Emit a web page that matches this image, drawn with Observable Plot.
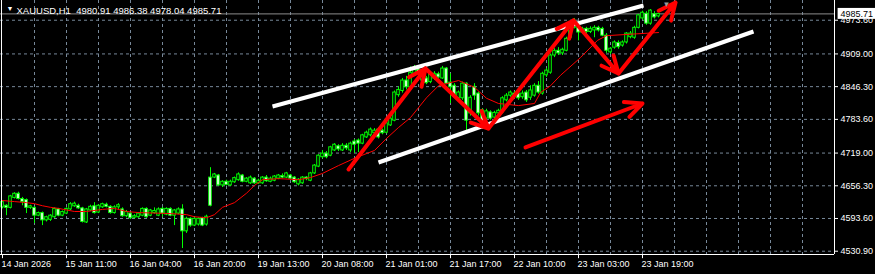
<!DOCTYPE html>
<html><head><meta charset="utf-8">
<script src="https://cdn.jsdelivr.net/npm/d3@7"></script>
<script src="https://cdn.jsdelivr.net/npm/@observablehq/plot@0.6"></script>
<style>html,body{margin:0;padding:0;background:#000;overflow:hidden}</style>
</head><body><div id="chart"></div>
<script>
const header = "XAUUSD,H1  4980.91 4986.38 4978.04 4985.71";
const open = [
4615,4618,4614,4633,4641,4631,4629,4614,4614,4599,
4604,4590,4591,4596,4611,4599,4603,4611,4617,4618,
4613,4586,4609,4617,4605,4615,4620,4616,4604,4615,
4611,4598,4603,4595,4596,4599,4612,4599,4604,4599,
4612,4601,4612,4599,4603,4611,4569,4593,4580,4582,
4594,4582,4672,4672,4676,4657,4664,4657,4663,4667,
4676,4664,4661,4670,4661,4661,4672,4664,4666,4670,
4675,4672,4676,4672,4659,4661,4672,4666,4680,4693,
4711,4718,4714,4724,4732,4724,4733,4724,4741,4743,
4737,4749,4753,4757,4764,4762,4758,4772,4781,4830,
4838,4858,4845,4871,4879,4858,4862,4855,4862,4870,
4862,4881,4854,4848,4824,4824,4852,4795,4846,4833,
4801,4785,4797,4787,4795,4797,4820,4829,4833,4833,
4826,4835,4825,4829,4848,4833,4868,4873,4906,4915,
4910,4915,4940,4959,4959,4950,4957,4951,4954,4959,
4957,4944,4912,4921,4930,4925,4931,4941,4940,4959,
4977,4986,4967,4985,4980.91];
const high = [
4628,4620,4638,4643,4644,4634,4631,4619,4616,4606,
4606,4598,4601,4614,4613,4608,4614,4624,4625,4621,
4615,4613,4619,4624,4620,4623,4623,4618,4618,4622,
4614,4609,4605,4601,4605,4614,4614,4611,4614,4614,
4615,4614,4614,4611,4614,4620,4596,4595,4596,4595,
4596,4600,4691,4680,4678,4666,4667,4667,4673,4681,
4678,4672,4675,4672,4669,4674,4676,4673,4676,4678,
4679,4682,4678,4674,4670,4674,4674,4682,4697,4716,
4724,4722,4732,4737,4735,4737,4737,4740,4745,4746,
4755,4761,4767,4766,4767,4765,4778,4788,4838,4846,
4862,4866,4884,4887,4886,4876,4866,4874,4875,4874,
4885,4883,4871,4852,4838,4855,4854,4829,4852,4836,
4804,4803,4800,4799,4803,4827,4833,4838,4837,4836,
4838,4839,4848,4852,4856,4874,4881,4909,4919,4921,
4920,4941,4960,4977,4967,4960,4960,4961,4963,4962,
4960,4948,4921,4934,4934,4934,4950,4952,4962,4985,
4991,4990,4994,4990,4986.38];
const low = [
4612,4599,4612,4631,4629,4618,4603,4611,4584,4597,
4580,4587,4588,4594,4597,4597,4601,4609,4615,4611,
4585,4584,4607,4602,4603,4613,4614,4602,4602,4611,
4596,4595,4592,4593,4594,4597,4594,4597,4602,4597,
4596,4599,4597,4580,4601,4536,4565,4577,4578,4579,
4578,4579,4616,4670,4655,4653,4656,4655,4661,4665,
4662,4662,4659,4659,4659,4659,4663,4662,4664,4668,
4670,4670,4668,4661,4656,4659,4666,4664,4678,4691,
4708,4708,4712,4722,4722,4722,4724,4720,4718,4720,
4735,4747,4750,4754,4746,4754,4756,4770,4779,4826,
4834,4840,4842,4866,4865,4855,4850,4852,4858,4861,
4860,4850,4814,4825,4820,4820,4762,4790,4820,4790,
4775,4782,4782,4784,4792,4794,4817,4826,4827,4820,
4822,4816,4820,4826,4832,4830,4864,4870,4902,4906,
4906,4913,4937,4957,4934,4947,4947,4948,4940,4951,
4942,4910,4908,4918,4918,4922,4928,4938,4937,4957,
4974,4964,4964,4976,4978.04];
const close = [
4625,4614,4636,4641,4631,4625,4614,4617,4599,4604,
4590,4596,4599,4612,4599,4606,4612,4621,4622,4613,
4587,4611,4616,4604,4618,4621,4616,4604,4615,4619,
4598,4606,4594,4598,4603,4612,4596,4609,4608,4611,
4603,4612,4599,4609,4611,4569,4593,4580,4593,4593,
4580,4597,4618,4678,4657,4664,4658,4664,4671,4678,
4664,4670,4672,4661,4666,4672,4665,4670,4674,4676,
4672,4680,4670,4663,4668,4672,4669,4680,4695,4714,
4718,4711,4730,4735,4726,4733,4728,4737,4735,4737,
4753,4758,4764,4762,4749,4757,4776,4785,4835,4840,
4858,4845,4873,4880,4874,4871,4853,4871,4871,4864,
4881,4852,4845,4829,4835,4852,4781,4825,4829,4795,
4778,4799,4785,4796,4800,4824,4829,4835,4830,4824,
4833,4820,4839,4848,4835,4871,4877,4906,4915,4910,
4917,4938,4957,4973,4950,4957,4951,4957,4959,4954,
4944,4915,4919,4931,4922,4931,4948,4948,4959,4983,
4988,4967,4992,4979,4985.71];

// moving average
const maBar   = [0,3,6,8,10,12,14,18,21,25,28,31,34,42,46,48,51,53,55,58,61,63,65,69,74,77,80,84,88,93,96,99,102,106,109,114,118,121,124,129,133,134.5,137,139.5,144.5,148.75,151,164];
const maValue = [4628,4626,4624,4622,4618,4615,4613,4607,4607,4611,4613,4607,4605,4603,4601,4597,4595,4601,4615,4624,4642,4657,4668,4670,4668,4672,4680,4695,4709,4724,4747,4768,4787,4825,4848,4858,4845,4824,4814,4810,4814,4835,4848,4868,4902,4935,4944,4950];

// drawn objects
const zigBar   = [86.5, 105.75, 121.5, 142.75, 154, 168.25];
const zigPrice = [4687.5, 4881.1, 4766.1, 4973.1, 4871.5, 5007.6];
const arrowBar   = [130.75, 160];
const arrowPrice = [4729.7, 4814.0];
const chanBar1   = [67.5, 94];
const chanPrice1 = [4808.3, 4700.9];
const chanBar2   = [160.25, 187.75];
const chanPrice2 = [5001.8, 4952.0];

const yTicks = [4530.90, 4593.60, 4656.30, 4719.00, 4783.60, 4846.30, 4909.00, 4973.60];
const xLabelBars = [0,16,32,48,64,80,96,112,128,144,160];
const xLabels = ["14 Jan 2026","15 Jan 11:00","16 Jan 04:00","16 Jan 20:00","19 Jan 13:00","20 Jan 08:00","21 Jan 01:00","21 Jan 17:00","22 Jan 10:00","23 Jan 03:00","23 Jan 19:00"];
const shiftBar = 166;

const xDomain = [-0.5, 208];
const yDomain = [4524.6, 5011.4];
const lastClose = close[close.length - 1];

const bars = open.map((o, i) => ({i, o, h: high[i], l: low[i], c: close[i]}));
const ma = maBar.map((b, k) => ({b, v: maValue[k]}));
const zz = zigBar.slice(1).map((b, k) => ({x1: zigBar[k], y1: zigPrice[k], x2: b, y2: zigPrice[k + 1]}));
const arr = [{x1: arrowBar[0], y1: arrowPrice[0], x2: arrowBar[1], y2: arrowPrice[1]}];
const chans = chanBar1.map((b, k) => ({x1: b, y1: chanPrice1[k], x2: chanBar2[k], y2: chanPrice2[k]}));

const grid = "#778899";
const green = "#00ff00";

const plot = Plot.plot({
  width: 875, height: 274,
  marginLeft: 0, marginRight: 41, marginTop: 0, marginBottom: 20,
  style: {background: "#000", color: "#fff", fontFamily: "'Liberation Sans', Arial, sans-serif", fontSize: "9px", overflow: "visible"},
  x: {domain: xDomain, axis: null},
  y: {domain: yDomain, axis: null},
  marks: [
    Plot.ruleY(yTicks, {stroke: grid, strokeDasharray: "3,3"}),
    Plot.ruleX(d3.range(8, 208, 8), {stroke: grid, strokeDasharray: "3,3"}),
    Plot.ruleY([lastClose], {stroke: "#8c8c8c"}),
    Plot.ruleX(bars, {x: "i", y1: "l", y2: "h", stroke: green}),
    Plot.rect(bars, {x1: d => d.i - 0.32, x2: d => d.i + 0.32, y1: "o", y2: "c",
      fill: d => d.c >= d.o ? "#000000" : "#ffffff", stroke: green}),
    Plot.line(ma, {x: "b", y: "v", stroke: "#ff0000", strokeWidth: 1}),
    Plot.link(chans, {x1: "x1", y1: "y1", x2: "x2", y2: "y2", stroke: "#ffffff", strokeWidth: 4}),
    Plot.arrow(zz, {x1: "x1", y1: "y1", x2: "x2", y2: "y2", stroke: "#ff0000", strokeWidth: 4, headLength: 7, headAngle: 50}),
    Plot.arrow(arr, {x1: "x1", y1: "y1", x2: "x2", y2: "y2", stroke: "#ff0000", strokeWidth: 4, headLength: 7, headAngle: 50}),
    // frame
    Plot.ruleX([xDomain[1]], {stroke: "#fff"}),
    Plot.ruleX([xDomain[0] + 0.25], {stroke: "#fff"}),
    Plot.ruleY([yDomain[0]], {stroke: "#fff", x1: xDomain[0], x2: xDomain[1]}),
    // y axis
    Plot.ruleY(yTicks, {x1: xDomain[1], x2: xDomain[1] + 1, stroke: "#fff"}),
    Plot.text(yTicks, {x: xDomain[1], y: d => d, text: d => d.toFixed(2), dx: 6, textAnchor: "start", fill: "#fff"}),
    Plot.rect([lastClose], {x1: xDomain[1] + 0.9, x2: xDomain[1] + 10.5, y1: d => d - 10.5, y2: d => d + 10.5, fill: "#fff"}),
    Plot.text([lastClose], {x: xDomain[1], y: d => d, text: d => d.toFixed(2), dx: 6, textAnchor: "start", fill: "#000"}),
    // x axis
    Plot.ruleX(xLabelBars, {y1: yDomain[0], y2: yDomain[0] - 8, stroke: "#fff"}),
    Plot.text(xLabelBars, {x: d => d, y: yDomain[0], text: (d, k) => xLabels[k], dy: 10, dx: -1, textAnchor: "start", fill: "#fff"}),
    // header
    Plot.text(["\u25BC"], {frameAnchor: "top-left", dx: 6, dy: 6, fontSize: 7, fill: "#fff"}),
    Plot.text([header], {frameAnchor: "top-left", dx: 16, dy: 7, textAnchor: "start", fill: "#fff", fontSize: 9.5}),
    Plot.text(["\u25BC"], {x: () => shiftBar, frameAnchor: "top", dy: 1, fontSize: 8, fill: "#9a9a9a"})
  ]
});
document.getElementById("chart").appendChild(plot);
</script>
</body></html>
